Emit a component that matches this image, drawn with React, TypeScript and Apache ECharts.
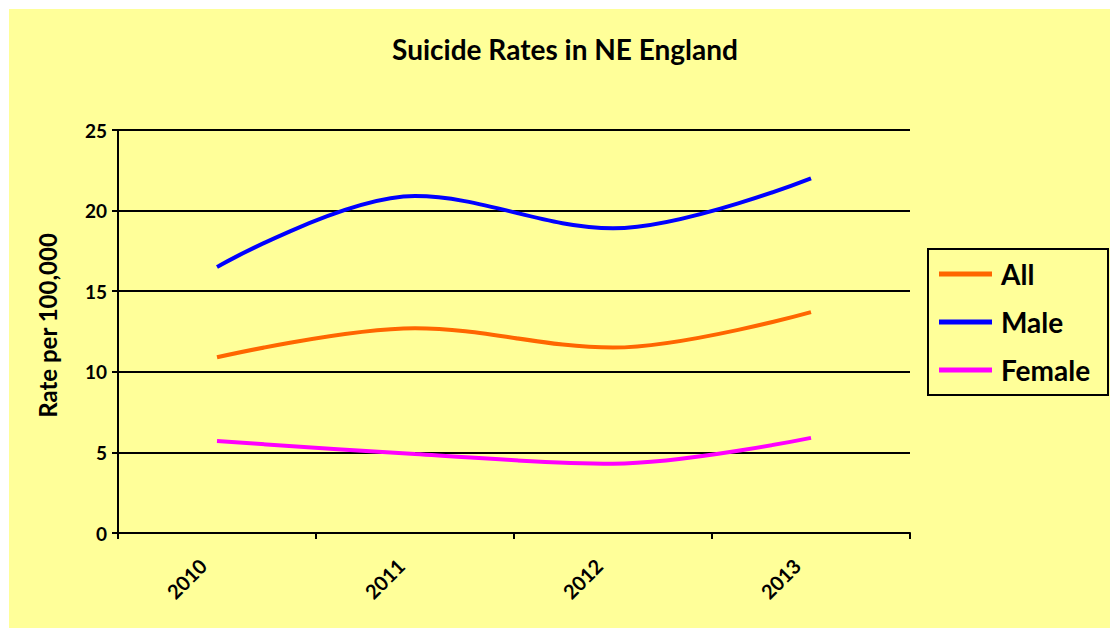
import React, { useEffect, useRef } from "react";
import * as echarts from "echarts";

const years = ["2010", "2011", "2012", "2013"];
const allRates = [10.9, 12.7, 11.5, 13.7];
const maleRates = [16.5, 20.9, 18.9, 22.0];
const femaleRates = [5.7, 4.9, 4.3, 5.9];

const FONT = "Lato, 'Open Sans', sans-serif";

export default function App() {
  const ref = useRef<HTMLDivElement>(null);

  useEffect(() => {
    if (!ref.current) return;
    const chart = echarts.init(ref.current, undefined, { renderer: "svg" });
    const lineSeries = (name: string, data: number[], color: string) => ({
      name,
      type: "line",
      data,
      smooth: 0.35,
      symbol: "none",
      lineStyle: { color, width: 4 },
      itemStyle: { color },
    });
    chart.setOption({
      animation: false,
      backgroundColor: "#FFFF99",
      textStyle: { fontFamily: FONT },
      title: {
        text: "Suicide Rates in NE England",
        left: 551,
        textAlign: "center",
        top: 21,
        textStyle: { fontFamily: FONT, fontWeight: "bold", fontSize: 28, color: "#000" },
      },
      grid: { left: 109, right: 200, top: 121, bottom: 95, containLabel: false },
      xAxis: {
        type: "category",
        data: years,
        boundaryGap: true,
        axisLine: { lineStyle: { color: "#000", width: 2 } },
        axisTick: { show: true, length: 6, lineStyle: { color: "#000", width: 2 } },
        axisLabel: {
          rotate: 45,
          margin: 15,
          padding: [0, 20, 0, 0],
          color: "#000",
          fontWeight: "bold",
          fontSize: 20,
          fontFamily: FONT,
        },
      },
      yAxis: {
        type: "value",
        min: 0,
        max: 25,
        interval: 5,
        name: "Rate per 100,000",
        nameLocation: "middle",
        nameGap: 59,
        nameTextStyle: {
          color: "#000",
          fontWeight: "bold",
          fontSize: 24,
          padding: [0, 0, 0, 12],
          fontFamily: FONT,
        },
        axisLine: { show: true, lineStyle: { color: "#000", width: 2 } },
        axisTick: { show: true, length: 6, lineStyle: { color: "#000", width: 2 } },
        axisLabel: { color: "#000", fontWeight: "bold", fontSize: 19, margin: 11, fontFamily: FONT },
        splitLine: { show: true, lineStyle: { color: "#000", width: 2 } },
      },
      legend: {
        orient: "vertical",
        left: 919,
        top: 240,
        icon: "rect",
        itemWidth: 53,
        itemHeight: 5,
        itemGap: 18,
        padding: [10, 10, 10, 11],
        data: ["All", "Male", "Female"],
        textStyle: {
          color: "#000",
          fontWeight: "bold",
          fontSize: 28,
          lineHeight: 30,
          padding: [0, 0, 0, 4],
          fontFamily: FONT,
        },
      },
      graphic: [
        {
          type: "rect",
          shape: { x: 919, y: 240, width: 180, height: 146 },
          style: { fill: "none", stroke: "#000", lineWidth: 2 },
          silent: true,
        },
      ],
      series: [
        lineSeries("All", allRates, "#FF6600"),
        lineSeries("Male", maleRates, "#0000FF"),
        lineSeries("Female", femaleRates, "#FF00FF"),
      ],
    });
    return () => chart.dispose();
  }, []);

  return (
    <div
      ref={ref}
      style={{ position: "fixed", left: 9, top: 9, width: 1101, height: 619 }}
    />
  );
}
